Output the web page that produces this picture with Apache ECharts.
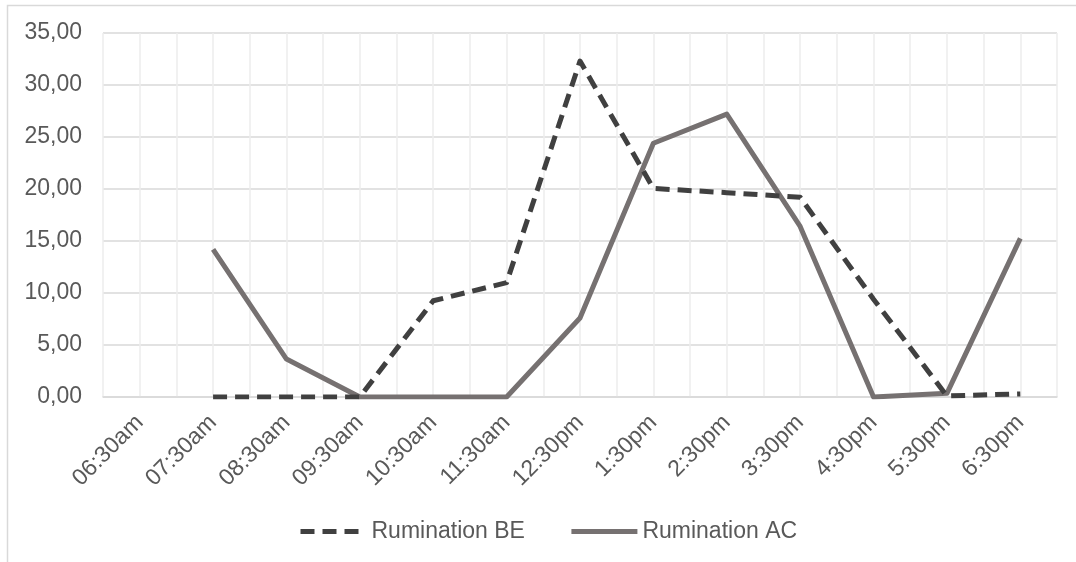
<!DOCTYPE html>
<html>
<head>
<meta charset="utf-8">
<script src="https://cdn.jsdelivr.net/npm/echarts@6/dist/echarts.min.js"></script>
<style>
  html, body { margin: 0; padding: 0; background: #ffffff; }
  #chart { width: 1076px; height: 562px; }
</style>
</head>
<body>
<div id="chart"></div>
<script>
// Hourly rumination readings
const categories = ['06:30am', '07:30am', '08:30am', '09:30am', '10:30am', '11:30am',
  '12:30pm', '1:30pm', '2:30pm', '3:30pm', '4:30pm', '5:30pm', '6:30pm'];
const ruminationBE = [null, 0, 0, 0, 9.25, 11.0, 32.3, 20.05, 19.65, 19.2, 9.4, 0.1, 0.3];
const ruminationAC = [null, 14.2, 3.65, 0, 0, 0, 7.6, 24.4, 27.2, 16.4, 0, 0.35, 15.25];
const yTicks = { min: 0, max: 35, interval: 5 };

// Half-step grid columns: two cells per category
const halfCells = categories.flatMap(c => [c + '-a', c + '-b']);

const textColor = '#595959';
const fontFamily = '"Liberation Sans", Arial, sans-serif';

const chart = echarts.init(document.getElementById('chart'));
chart.setOption({
  backgroundColor: '#ffffff',
  animation: false,
  graphic: [{
    type: 'rect',
    silent: true,
    shape: { x: 7.5, y: 5.5, width: 1200, height: 700 },
    style: { fill: 'none', stroke: '#d9d9d9', lineWidth: 1.5 }
  }],
  grid: { left: 103, right: 19, top: 33, bottom: 165 },
  legend: {
    bottom: 14,
    left: 293,
    itemWidth: 66,
    itemHeight: 2,
    itemGap: 44,
    itemStyle: { opacity: 0 },
    lineStyle: { width: 5 },
    textStyle: { color: textColor, fontSize: 23, fontFamily: fontFamily },
    data: ['Rumination BE', 'Rumination AC']
  },
  xAxis: [{
    type: 'category',
    data: categories,
    boundaryGap: true,
    axisLine: { show: true, lineStyle: { color: '#d9d9d9', width: 1.5 } },
    axisTick: { show: false },
    splitLine: { show: false },
    axisLabel: {
      interval: 0,
      rotate: 45,
      margin: 22,
      color: textColor,
      fontSize: 23,
      fontFamily: fontFamily
    }
  }, {
    type: 'category',
    data: halfCells,
    boundaryGap: true,
    position: 'bottom',
    axisLine: { show: false },
    axisTick: { show: false },
    axisLabel: { show: false },
    splitLine: { show: true, interval: 0, lineStyle: { color: '#ececec', width: 1.5 } }
  }],
  yAxis: {
    type: 'value',
    min: yTicks.min,
    max: yTicks.max,
    interval: yTicks.interval,
    axisLine: { show: false },
    axisTick: { show: false },
    splitLine: { show: true, lineStyle: { color: '#d9d9d9', width: 1.5 } },
    axisLabel: {
      margin: 21,
      color: textColor,
      fontSize: 23,
      fontFamily: fontFamily,
      formatter: v => v.toFixed(2).replace('.', ',')
    }
  },
  series: [{
    name: 'Rumination BE',
    type: 'line',
    data: ruminationBE,
    xAxisIndex: 0,
    symbol: 'none',
    connectNulls: false,
    z: 3,
    lineStyle: { color: '#404040', width: 5, type: [14, 8], join: 'round' },
    itemStyle: { color: '#404040' }
  }, {
    name: 'Rumination AC',
    type: 'line',
    data: ruminationAC,
    xAxisIndex: 0,
    symbol: 'none',
    connectNulls: false,
    z: 2,
    lineStyle: { color: '#767171', width: 5, join: 'round' },
    itemStyle: { color: '#767171' }
  }]
});
</script>
</body>
</html>
